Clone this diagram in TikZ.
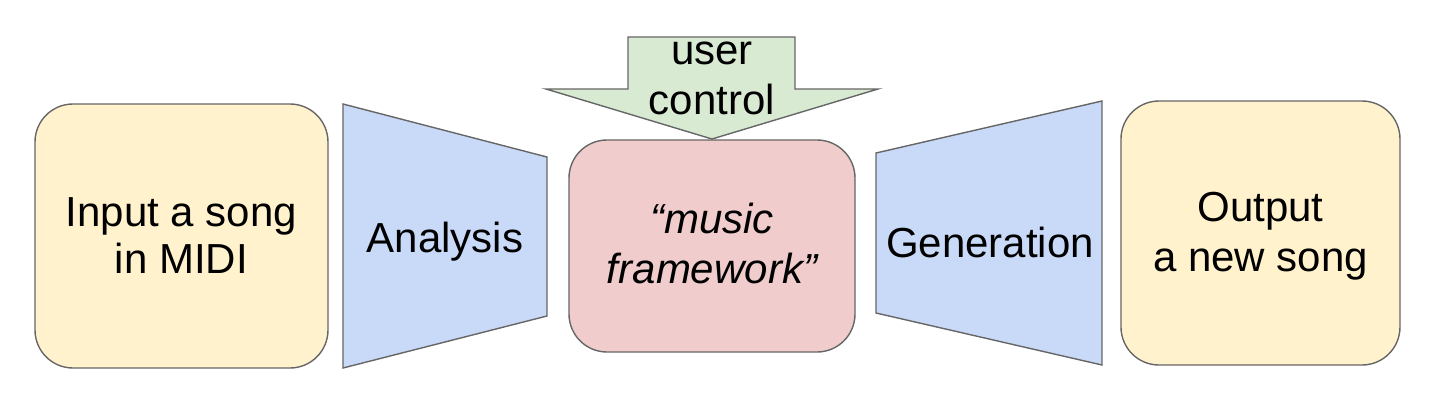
\documentclass[tikz,border=0pt]{standalone}
\usepackage{fontspec}
\setmainfont{Liberation Sans}
\usetikzlibrary{positioning}
\definecolor{songfill}{HTML}{FFF2CC}
\definecolor{stepfill}{HTML}{C9DAF8}
\definecolor{corefill}{HTML}{F0CCCC}
\definecolor{userfill}{HTML}{D9EAD3}
\definecolor{edgegray}{HTML}{666666}

\begin{document}
\begin{tikzpicture}[x=0.5pt, y=-0.5pt,
    txt/.style={align=center, inner sep=0pt, font=\fontsize{21}{23.5}\selectfont},
    stage/.style={txt, draw=edgegray, line width=0.7pt, rounded corners=19pt},
    funnel/.style={draw=edgegray, line width=0.7pt, fill=stepfill, line join=miter}]
  \useasboundingbox (0,0) rectangle (1436,418);

  \node[stage, fill=songfill, minimum width=146.5pt, minimum height=132pt] (input) at (181.5,236) {};
  \node[txt] (inputtxt) at (181.5,236) {Input a song\\in MIDI};

  \draw[funnel] (343,104) -- (547,157) -- (547,316) -- (343,368) -- cycle;
  \node[txt] (analysis) at (445,242) {Analysis};

  \node[stage, fill=corefill, minimum width=143pt, minimum height=106pt] (framework) at (712,246) {};
  \node[txt, font=\fontsize{21}{25}\selectfont\itshape] (frameworktxt) at (712,243.5) {``music\\framework''};

  \draw[funnel, fill=userfill] (628,37) -- (795,37) -- (795,89) -- (878,89) -- (712,139)
    -- (546,89) -- (628,89) -- cycle;
  \node[txt, font=\fontsize{21}{25}\selectfont] (user) at (712,78) {user\\control};

  \draw[funnel] (876,153) -- (1102,101) -- (1102,365) -- (876,313) -- cycle;
  \node[txt] (generation) at (990,242) {Generation};

  \node[stage, fill=songfill, minimum width=139.5pt, minimum height=132pt] (output) at (1260.5,233) {};
  \node[txt, font=\fontsize{21}{25}\selectfont] (outputtxt) at (1260.5,236) {Output\\a new song};
\end{tikzpicture}
\end{document}
